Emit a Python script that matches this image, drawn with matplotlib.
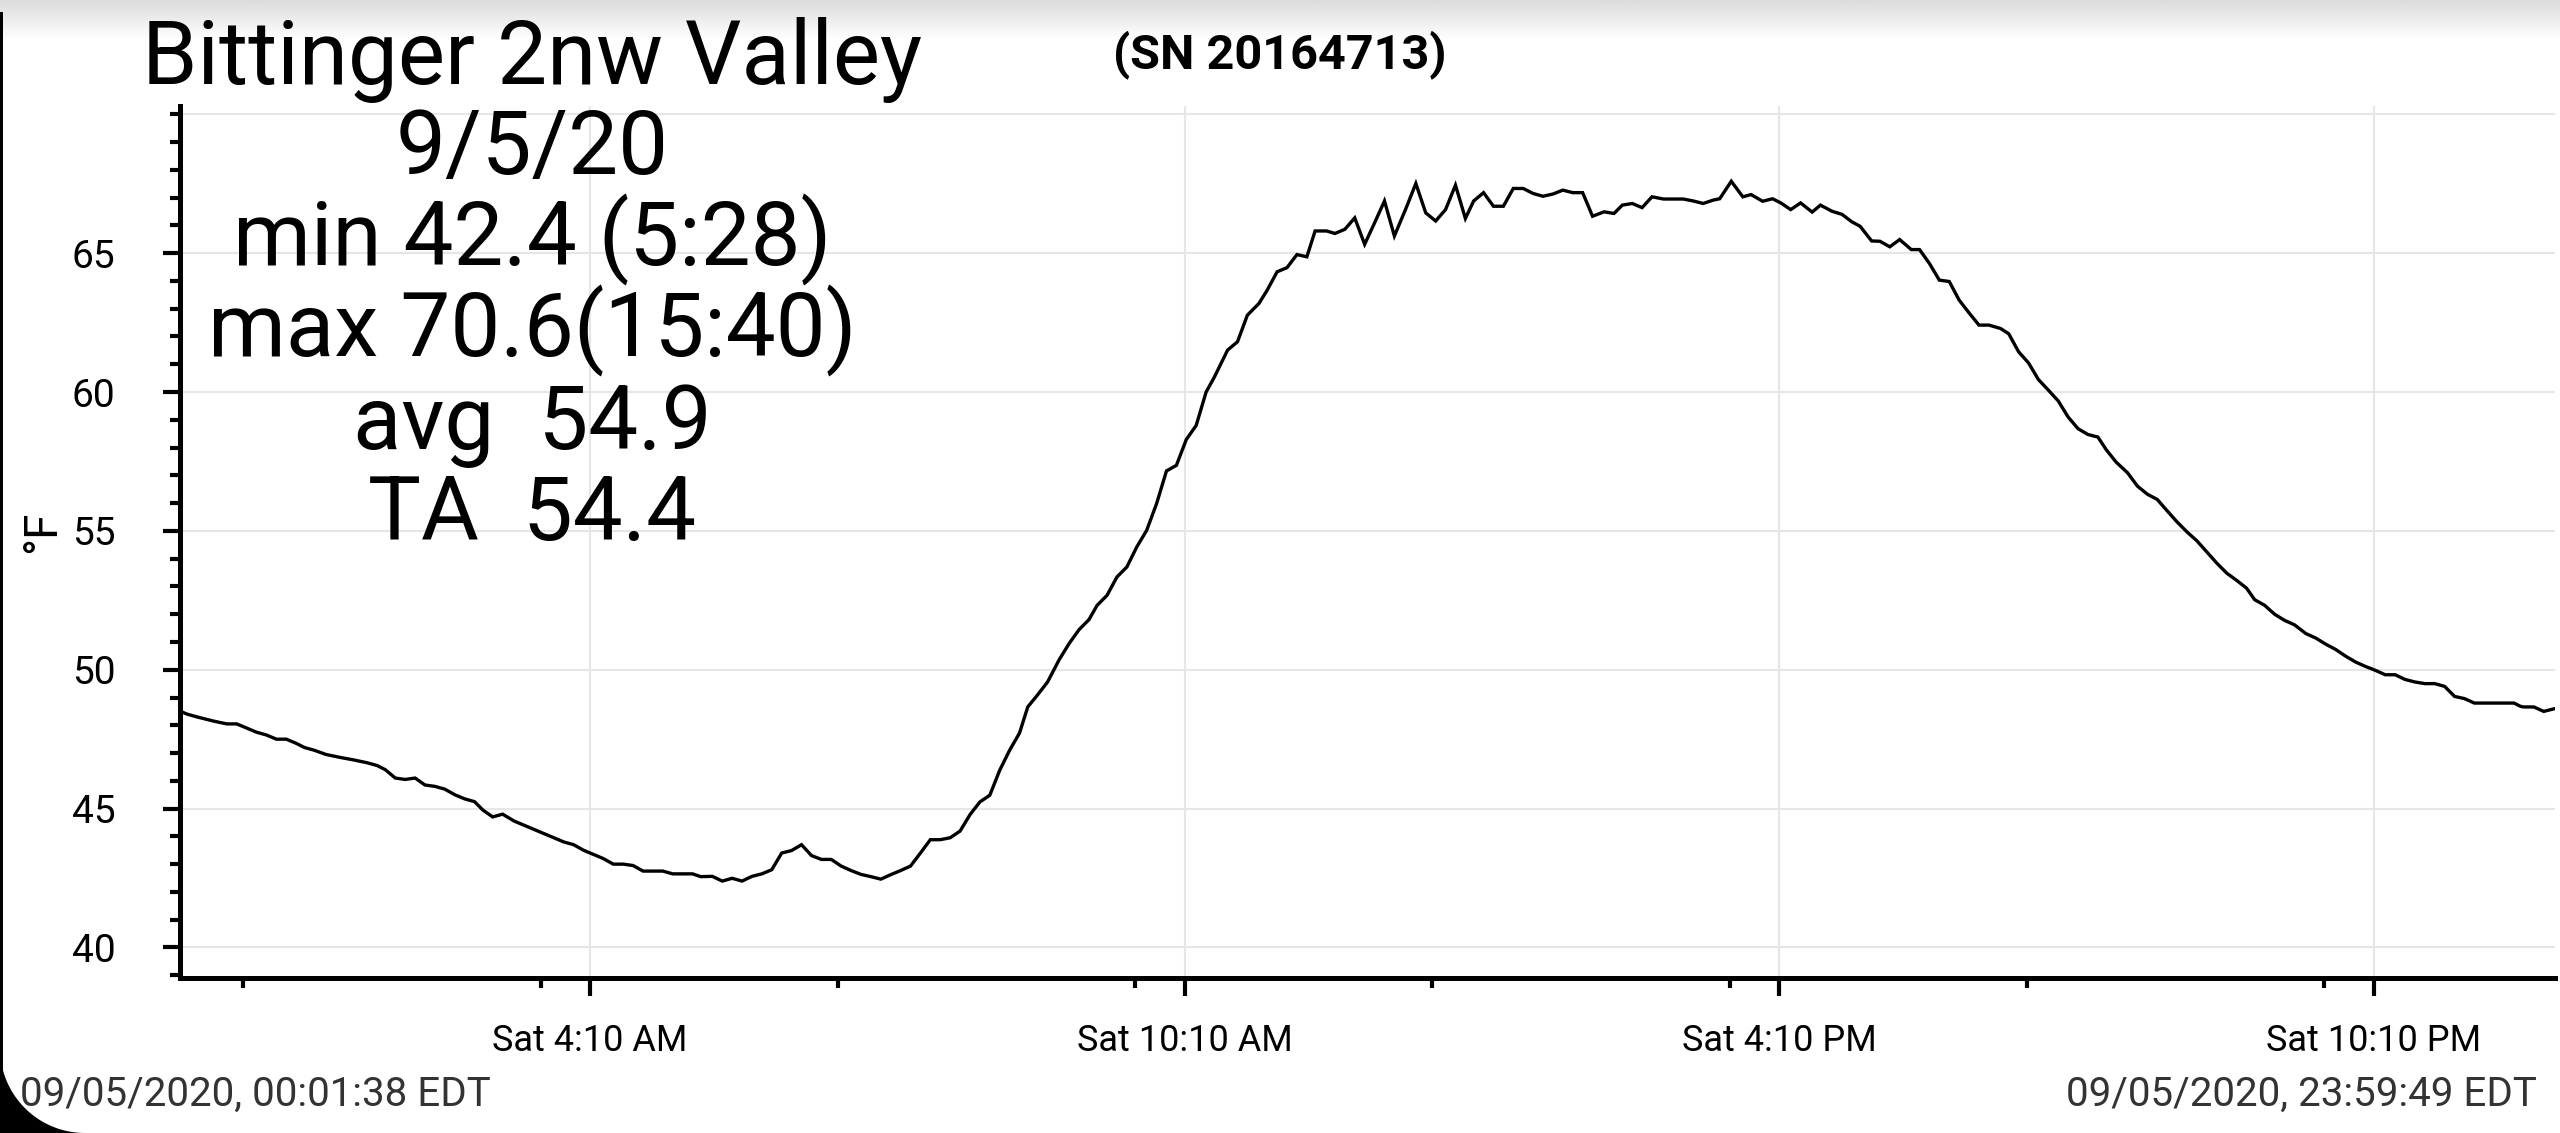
import matplotlib
matplotlib.use("Agg")
import numpy as np
import matplotlib.pyplot as plt
from matplotlib.patches import Polygon, Rectangle
from matplotlib.ticker import FixedLocator, FixedFormatter

plt.rcParams['font.family'] = ['Roboto', 'DejaVu Sans']

# logger readings, Sat 9/5/2020 (time of day, deg F)
times = [
    "00:02", "00:06", "00:12", "00:22", "00:30", "00:36", "00:42", "00:48", "00:54",
    "01:00", "01:06", "01:12", "01:17", "01:23", "01:30", "01:38", "01:47", "01:55",
    "02:01", "02:06", "02:12", "02:18", "02:24", "02:30", "02:36", "02:42", "02:48",
    "02:54", "03:00", "03:05", "03:11", "03:17", "03:24", "03:30", "03:36", "03:42",
    "03:48", "03:54", "04:00", "04:06", "04:12", "04:18", "04:24", "04:30", "04:36",
    "04:42", "04:54", "05:00", "05:12", "05:17", "05:24", "05:30", "05:36", "05:42",
    "05:48", "05:54", "06:00", "06:06", "06:12", "06:18", "06:24", "06:30", "06:36",
    "06:42", "06:48", "06:54", "07:00", "07:06", "07:12", "07:18", "07:24", "07:30",
    "07:36", "07:42", "07:48", "07:54", "08:00", "08:06", "08:12", "08:18", "08:24",
    "08:30", "08:35", "08:41", "08:47", "08:54", "09:00", "09:06", "09:12", "09:17",
    "09:23", "09:29", "09:35", "09:41", "09:47", "09:53", "09:59", "10:05", "10:11",
    "10:17", "10:23", "10:28", "10:36", "10:42", "10:48", "10:55", "11:00", "11:06",
    "11:12", "11:18", "11:24", "11:29", "11:36", "11:41", "11:47", "11:53", "11:59",
    "12:05", "12:11", "12:17", "12:24", "12:30", "12:36", "12:42", "12:48", "12:54",
    "13:00", "13:05", "13:11", "13:17", "13:23", "13:29", "13:35", "13:41", "13:47",
    "13:53", "13:59", "14:05", "14:11", "14:17", "14:24", "14:30", "14:35", "14:41",
    "14:47", "14:53", "15:00", "15:06", "15:12", "15:18", "15:24", "15:30", "15:34",
    "15:41", "15:48", "15:53", "16:00", "16:06", "16:11", "16:17", "16:23", "16:30",
    "16:35", "16:42", "16:48", "16:54", "16:59", "17:06", "17:11", "17:17", "17:23",
    "17:30", "17:35", "17:41", "17:47", "17:53", "17:59", "18:05", "18:11", "18:17",
    "18:24", "18:29", "18:35", "18:41", "18:47", "18:53", "18:59", "19:05", "19:11",
    "19:17", "19:23", "19:28", "19:34", "19:41", "19:47", "19:53", "19:59", "20:05",
    "20:11", "20:17", "20:23", "20:29", "20:35", "20:41", "20:47", "20:53", "20:58",
    "21:04", "21:10", "21:16", "21:22", "21:29", "21:35", "21:41", "21:47", "21:53",
    "21:59", "22:05", "22:11", "22:17", "22:23", "22:29", "22:35", "22:41", "22:47",
    "22:53", "22:59", "23:05", "23:11", "23:35", "23:39", "23:41", "23:47", "23:53",
    "23:59",
]
temps = [
    48.5, 48.4, 48.3, 48.15, 48.05, 48.05, 47.9, 47.75, 47.65,
    47.5, 47.5, 47.35, 47.2, 47.1, 46.95, 46.85, 46.75, 46.65,
    46.55, 46.4, 46.1, 46.05, 46.1, 45.85, 45.8, 45.7, 45.5,
    45.35, 45.25, 44.95, 44.7, 44.8, 44.55, 44.4, 44.25, 44.1,
    43.95, 43.8, 43.7, 43.5, 43.35, 43.2, 43.0, 43.0, 42.95,
    42.75, 42.75, 42.65, 42.65, 42.55, 42.56, 42.39, 42.49, 42.39,
    42.56, 42.65, 42.8, 43.4, 43.49, 43.7, 43.31, 43.17, 43.17,
    42.93, 42.77, 42.63, 42.55, 42.46, 42.62, 42.77, 42.93, 43.4,
    43.88, 43.88, 43.95, 44.19, 44.78, 45.24, 45.48, 46.38, 47.1,
    47.72, 48.66, 49.1, 49.56, 50.36, 50.94, 51.44, 51.8, 52.32,
    52.68, 53.34, 53.7, 54.42, 55.02, 55.98, 57.16, 57.36, 58.29,
    58.8, 60.0, 60.54, 61.51, 61.81, 62.77, 63.19, 63.67, 64.33,
    64.48, 64.95, 64.87, 65.8, 65.8, 65.71, 65.86, 66.27, 65.32,
    66.09, 66.88, 65.62, 66.61, 67.51, 66.45, 66.16, 66.57, 67.45,
    66.25, 66.88, 67.18, 66.69, 66.69, 67.33, 67.33, 67.15, 67.05,
    67.13, 67.27, 67.18, 67.18, 66.33, 66.49, 66.43, 66.73, 66.79,
    66.64, 67.03, 66.95, 66.95, 66.95, 66.88, 66.79, 66.91, 66.96,
    67.59, 67.03, 67.11, 66.87, 66.96, 66.81, 66.57, 66.81, 66.48,
    66.73, 66.51, 66.4, 66.13, 65.97, 65.44, 65.43, 65.23, 65.49,
    65.13, 65.13, 64.63, 64.03, 63.98, 63.31, 62.85, 62.41, 62.41,
    62.29, 62.1, 61.45, 61.05, 60.45, 60.07, 59.68, 59.1, 58.68,
    58.47, 58.38, 57.93, 57.48, 57.09, 56.61, 56.32, 56.13, 55.72,
    55.32, 54.96, 54.64, 54.24, 53.84, 53.48, 53.22, 52.94, 52.52,
    52.32, 52.0, 51.78, 51.62, 51.3, 51.14, 50.92, 50.73, 50.49,
    50.28, 50.12, 49.98, 49.82, 49.82, 49.65, 49.56, 49.5, 49.5,
    49.4, 49.04, 48.96, 48.8, 48.8, 48.68, 48.66, 48.66, 48.5,
    48.59,
]

start_time = "00:01:38"
end_time = "23:59:49"
major_times = ["04:10", "10:10", "16:10", "22:10"]
major_labels = ["Sat 4:10 AM", "Sat 10:10 AM", "Sat 4:10 PM", "Sat 10:10 PM"]
minor_times = ["00:40", "03:40", "06:40", "09:40", "12:40", "15:40", "18:40", "21:40"]

title = "Bittinger 2nw Valley"
serial = "(SN 20164713)"
stats = ["9/5/20", "min 42.4 (5:28)", "max 70.6(15:40)", "avg  54.9", "TA  54.4"]
footer_left = "09/05/2020, 00:01:38 EDT"
footer_right = "09/05/2020, 23:59:49 EDT"


def to_hours(s):
    parts = [float(p) for p in s.split(":")]
    while len(parts) < 3:
        parts.append(0.0)
    return parts[0] + parts[1] / 60 + parts[2] / 3600


W, H = 2560, 1133
fig = plt.figure(figsize=(W / 100, H / 100), dpi=100)
fig.patch.set_facecolor("white")

# light shadow band at the top of the screenshot
shade = fig.add_axes([0, 1 - 40 / H, 1, 40 / H], zorder=-5)
grad = np.linspace(0.86, 1.0, 64).reshape(-1, 1)
shade.imshow(grad, cmap="gray", vmin=0, vmax=1, aspect="auto", extent=[0, 1, 0, 1])
shade.axis("off")

ax = fig.add_axes([180 / W, 1 - 978 / H, (2555 - 180) / W, (978 - 106) / H])
x = [to_hours(t) for t in times]
ax.plot(x, temps, color="black", lw=2.4, solid_joinstyle="miter", zorder=3)

ax.set_xlim(to_hours(start_time), to_hours(end_time))
ax.set_ylim(38.9, 70.3)

for side in ["top", "right"]:
    ax.spines[side].set_visible(False)
for side in ["left", "bottom"]:
    ax.spines[side].set_linewidth(3.6)
    ax.spines[side].set_color("black")

ax.xaxis.set_major_locator(FixedLocator([to_hours(t) for t in major_times]))
ax.xaxis.set_major_formatter(FixedFormatter(major_labels))
ax.xaxis.set_minor_locator(FixedLocator([to_hours(t) for t in minor_times]))
ax.yaxis.set_major_locator(FixedLocator(np.arange(40, 66, 5)))
ax.yaxis.set_minor_locator(FixedLocator(np.arange(39, 71, 1)))

ax.tick_params(axis="x", which="major", length=13.3, width=3, pad=19, labelsize=26)
ax.tick_params(axis="x", which="minor", length=7, width=3)
ax.tick_params(axis="y", which="major", length=12.5, width=3, pad=34, labelsize=28)
ax.tick_params(axis="y", which="minor", length=7, width=3)

ax.grid(True, which="major", color="#e6e6e6", lw=1.5, zorder=0)
ax.axhline(70, color="#e6e6e6", lw=1.5, zorder=0)
ax.set_axisbelow(True)

fig.text(42 / W, 1 - 532 / H, "°F", rotation=90, ha="center", va="center", fontsize=33)

fig.text(532 / W, 1 - 84 / H, title, ha="center", va="baseline", fontsize=64)
fig.text(1280 / W, 1 - 68 / H, serial, ha="center", va="baseline", fontsize=35,
         fontweight="bold")
for i, line in enumerate(stats):
    base = 174 + i * 91.5
    fig.text(532 / W, 1 - base / H, line, ha="center", va="baseline", fontsize=64)

fig.text(20 / W, 1 - 1106 / H, footer_left, ha="left", va="baseline", fontsize=29,
         color="#333333", zorder=12)
fig.text(2537 / W, 1 - 1106 / H, footer_right, ha="right", va="baseline", fontsize=29,
         color="#333333", zorder=12)

# rounded black screen corner and left edge
r = 85
th = np.linspace(np.pi * 1.5, np.pi, 40)
corner = [(0, 0)] + [((r + r * np.cos(a)) / W, (r + r * np.sin(a)) / H) for a in th]
fig.add_artist(Polygon(corner, closed=True, transform=fig.transFigure,
                       facecolor="black", edgecolor="none", zorder=10))
fig.add_artist(Rectangle((0, 0), 3 / W, 1 - 12 / H, transform=fig.transFigure,
                         facecolor="black", edgecolor="none", zorder=10))

fig.savefig("out.png", dpi=100)
